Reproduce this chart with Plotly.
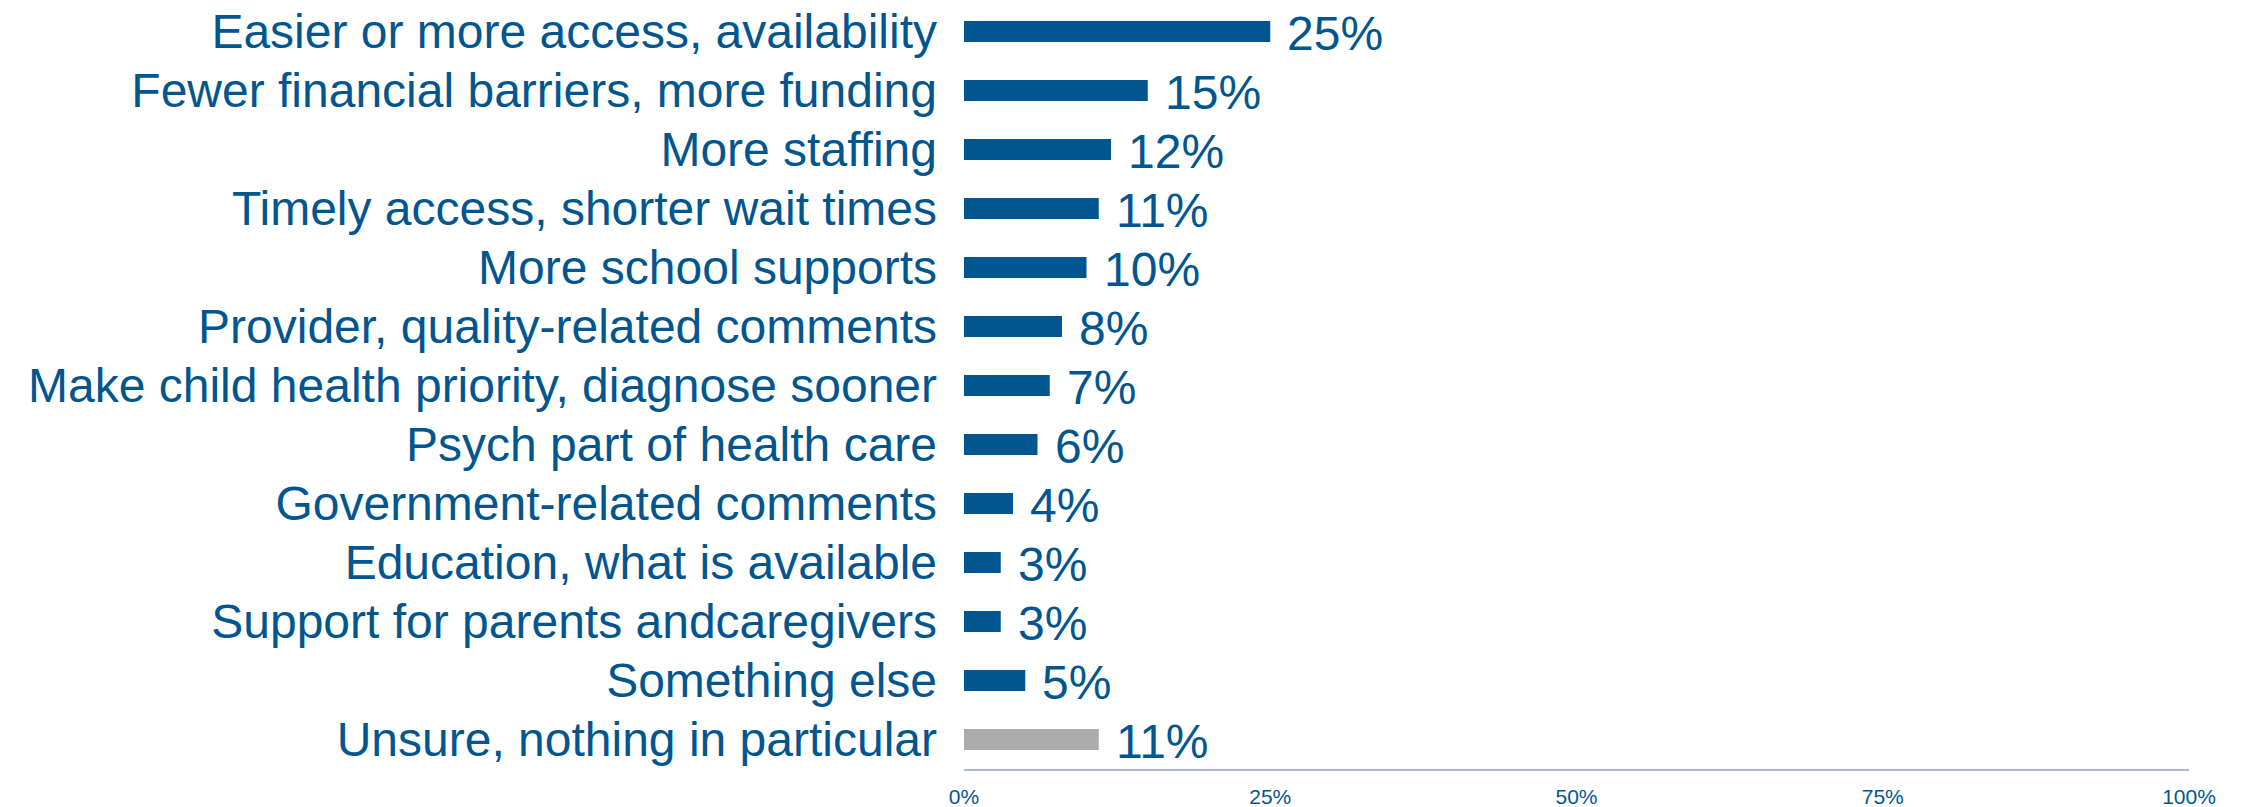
import plotly.graph_objects as go

categories = [
    "Easier or more access, availability",
    "Fewer financial barriers, more funding",
    "More staffing",
    "Timely access, shorter wait times",
    "More school supports",
    "Provider, quality-related comments",
    "Make child health priority, diagnose sooner",
    "Psych part of health care",
    "Government-related comments",
    "Education, what is available",
    "Support for parents andcaregivers",
    "Something else",
    "Unsure, nothing in particular",
]
values = [25, 15, 12, 11, 10, 8, 7, 6, 4, 3, 3, 5, 11]
tick_values = [0, 25, 50, 75, 100]
tick_labels = ["0%", "25%", "50%", "75%", "100%"]

BLUE = "#02568F"
GREY = "#ABABAB"
FONT = "Liberation Sans, Arial, sans-serif"

bar_colors = [GREY if c.startswith("Unsure") else BLUE for c in categories]

fig = go.Figure(
    go.Bar(
        x=values,
        y=categories,
        orientation="h",
        marker=dict(color=bar_colors, line=dict(width=0)),
        hoverinfo="skip",
    )
)

# value labels to the right of each bar
for cat, v in zip(categories, values):
    fig.add_annotation(
        x=v, y=cat, text=f"{v}%", showarrow=False,
        xanchor="left", yanchor="middle", xshift=15, yshift=-2,
        font=dict(family=FONT, size=48, color=BLUE),
    )

fig.update_layout(
    width=2241,
    height=807,
    margin=dict(l=964, r=52, t=1, b=38, autoexpand=False),
    paper_bgcolor="white",
    plot_bgcolor="white",
    bargap=0.644,
    showlegend=False,
    font=dict(family=FONT, color=BLUE),
)
fig.update_xaxes(
    range=[0, 100],
    tickvals=tick_values,
    ticktext=tick_labels,
    showgrid=False,
    zeroline=False,
    showline=True,
    linecolor="#A9B7DA",
    linewidth=1.5,
    ticks="",
    ticklabelstandoff=8,
    tickfont=dict(family=FONT, size=21, color=BLUE),
    fixedrange=True,
)
fig.update_yaxes(
    categoryorder="array",
    categoryarray=categories,
    autorange="reversed",
    showgrid=False,
    zeroline=False,
    showline=False,
    ticks="",
    ticklabelstandoff=26,
    tickfont=dict(family=FONT, size=48, color=BLUE),
    fixedrange=True,
)

fig.write_html("out.html")
